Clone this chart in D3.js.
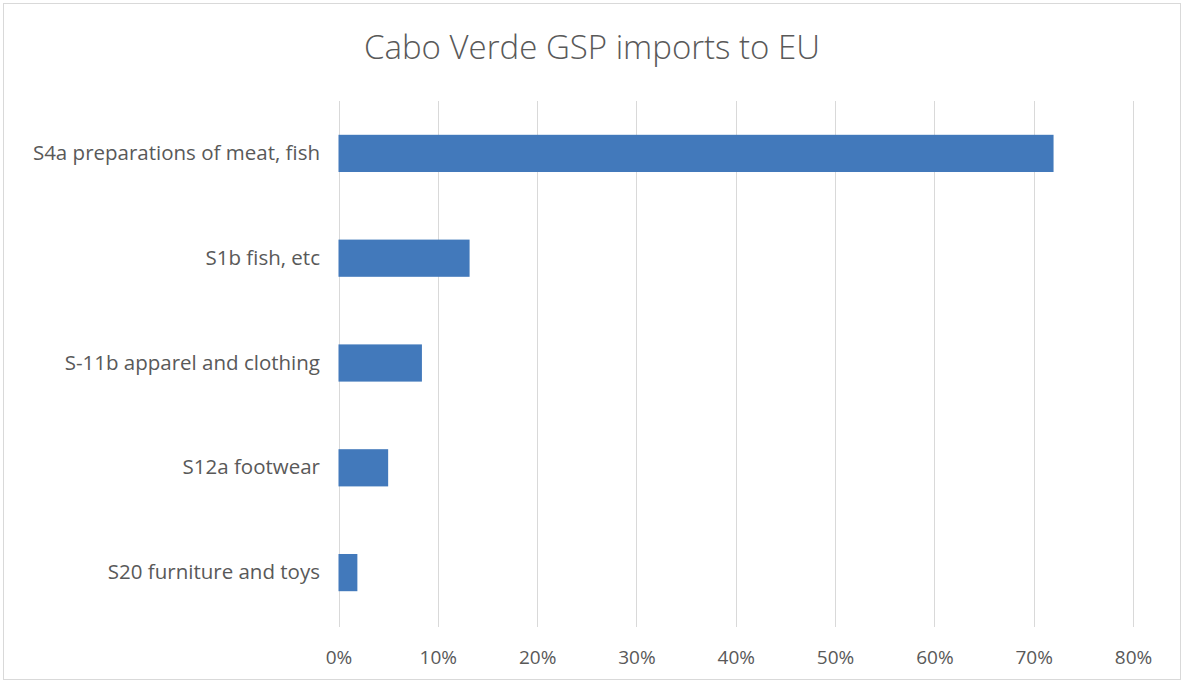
<!DOCTYPE html>
<html><head><meta charset="utf-8">
<script src="https://cdn.jsdelivr.net/npm/d3@7/dist/d3.min.js"></script>
<style>
html,body{margin:0;padding:0;background:#fff;}
svg{display:block;}
</style></head>
<body>
<svg id="chart" width="1184" height="683"></svg>
<script>
const title = "Cabo Verde GSP imports to EU";
const categories = [
  "S4a preparations of meat, fish",
  "S1b fish, etc",
  "S-11b apparel and clothing",
  "S12a footwear",
  "S20 furniture and toys"
];
const values = [0.72, 0.132, 0.084, 0.05, 0.019];
const tickValues = [0, 0.1, 0.2, 0.3, 0.4, 0.5, 0.6, 0.7, 0.8];

const svg = d3.select("#chart");
const W = 1184, H = 683;
const m = {left: 338.5, right: 51, top: 101, bottom: 58};

svg.append("rect").attr("x", 3.5).attr("y", 3.5).attr("width", W - 7).attr("height", H - 7)
  .attr("fill", "#fff").attr("stroke", "#d9d9d9").attr("stroke-width", 1);

svg.append("text").attr("x", 592).attr("y", 59).attr("text-anchor", "middle")
  .attr("font-family", "'Open Sans', sans-serif").attr("font-size", 33).attr("font-weight", 300)
  .attr("fill", "#595959").text(title);

const x = d3.scaleLinear().domain([0, 0.8]).range([m.left, W - m.right]);
const y = d3.scaleBand().domain(categories).range([m.top, H - m.bottom]).paddingInner(0.645).paddingOuter(0.3225);

const grid = svg.append("g");
grid.selectAll("line").data(tickValues).join("line")
  .attr("x1", d => Math.round(x(d)) + 0.5).attr("x2", d => Math.round(x(d)) + 0.5)
  .attr("y1", m.top).attr("y2", H - m.bottom + 2)
  .attr("stroke", "#d9d9d9").attr("stroke-width", 1);

svg.append("g").selectAll("rect").data(values).join("rect")
  .attr("x", x(0)).attr("y", (d, i) => y(categories[i]))
  .attr("width", d => x(d) - x(0)).attr("height", y.bandwidth())
  .attr("fill", "#4279bb");

const xAxis = d3.axisBottom(x).tickValues(tickValues).tickFormat(d3.format(".0%")).tickSize(0).tickPadding(0);
const gx = svg.append("g").attr("transform", `translate(0,${H - 19})`).call(xAxis);
gx.select(".domain").remove();
gx.selectAll("text").attr("font-family", "'Open Sans', sans-serif").attr("font-size", 19)
  .attr("fill", "#595959").attr("dy", 0);

const yAxis = d3.axisLeft(y).tickSize(0).tickPadding(0);
const gy = svg.append("g").attr("transform", `translate(320,0)`).call(yAxis);
gy.select(".domain").remove();
gy.selectAll("text").attr("font-family", "'Open Sans', sans-serif").attr("font-size", 20.5)
  .attr("fill", "#595959");
</script>
</body></html>
